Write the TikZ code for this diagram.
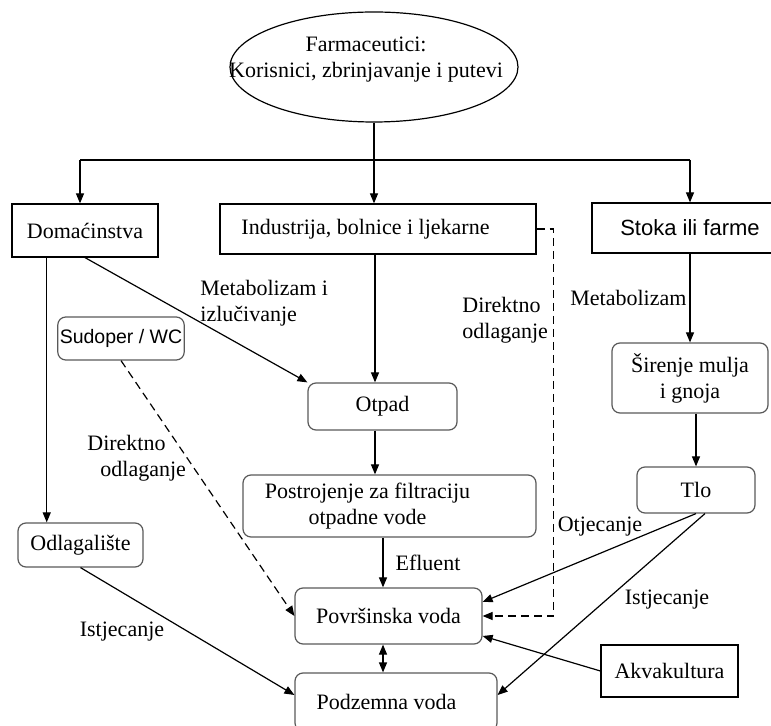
\documentclass[tikz,border=0pt]{standalone}
\usepackage{fontspec}
\setmainfont{Liberation Serif}
\newfontfamily\arialfont{Liberation Sans}
\usetikzlibrary{shapes.geometric,arrows.meta,calc}

\begin{document}
\begin{tikzpicture}[x=0.5pt,y=-0.5pt,
  every node/.style={font=\fontsize{11}{13}\selectfont},
  box/.style={draw,line width=0.6pt,align=center,inner sep=2pt},
  rbox/.style={box,rounded corners=4pt,draw=black!65},
  arr/.style={-{Triangle[length=5pt,width=4pt]},line width=0.6pt},
  arrb/.style={{Triangle[length=5pt,width=4pt]}-{Triangle[length=5pt,width=4pt]},line width=0.6pt},
  dashline/.style={dash pattern=on 4pt off 2.5pt},
  lbl/.style={align=left,inner sep=0pt}]
\useasboundingbox (0,0) rectangle (771,726);

\node[ellipse,draw,line width=0.6pt,minimum width=144pt,minimum height=55pt] (ell) at (374,67) {};
\node[align=center,inner sep=0pt] (farm) at (366,60) {Farmaceutici:\\Korisnici, zbrinjavanje i putevi};

\node[box,minimum width=73pt,minimum height=26.5pt] (dom) at (85,230.5) {Domaćinstva};
\node[box,minimum width=158pt,minimum height=25pt] (ind) at (378,229) {Industrija, bolnice i ljekarne\hspace*{12.5pt}};
\node[box,minimum width=98pt,minimum height=25pt,font=\arialfont\fontsize{11}{13}\selectfont] (stoka) at (690,228) {Stoka ili farme};
\node[rbox,minimum width=62pt,minimum height=21.5pt,font=\arialfont\fontsize{9.75}{12}\selectfont,inner sep=1pt] (sud) at (121,338.5) {Sudoper / WC};
\node[rbox,minimum width=74.5pt,minimum height=23.5pt] (otpad) at (382.5,406.5) {Otpad};
\node[rbox,minimum width=78pt,minimum height=35pt] (sirenje) at (690,378) {Širenje mulja\\i gnoja};
\node[rbox,minimum width=146.5pt,minimum height=31pt] (postr) at (389.5,506) {Postrojenje za filtraciju\hspace*{22pt}\\otpadne vode\hspace*{22pt}};
\node[rbox,minimum width=59pt,minimum height=23pt] (tlo) at (696,490) {Tlo};
\node[rbox,minimum width=62.5pt,minimum height=22pt] (odl) at (80.5,545) {Odlagalište};
\node[rbox,minimum width=93.5pt,minimum height=28pt] (pov) at (388.5,616) {Površinska voda};
\node[rbox,minimum width=101pt,minimum height=29pt] (podz) at (396,702) {Podzemna voda\hspace*{9.5pt}};
\node[box,minimum width=68.5pt,minimum height=26pt] (akva) at (669.5,671) {Akvakultura};

\coordinate (busL) at (80,160);
\coordinate (busR) at (690,160);
\coordinate (colA) at (375,300);
\coordinate (colB) at (383,560);

\draw[arr] (ell.south) -- (ell.south |- ind.north);
\draw[line width=0.6pt] (busL) -- (busR);
\draw[arr] (busL) -- (busL |- dom.north);
\draw[arr] (busR) -- (busR |- stoka.north);

\draw[arr] ($(dom.south west)!.24!(dom.south east)$) coordinate (d1) -- (d1 |- odl.north);
\draw[arr] (dom.south) -- (otpad.north west);
\node[lbl,anchor=west] (metab1) at (200,303) {Metabolizam i\\izlučivanje};
\draw[arr,dashline] (sud.south) -- (pov.west);
\node[lbl,anchor=west] (direkt1) at (87,458) {Direktno\\\hspace*{6.5pt}odlaganje};

\draw[arr] (colA |- ind.south) -- (colA |- otpad.north);
\draw[arr] (colA |- otpad.south) -- (colA |- postr.north);
\draw[arr] (colB |- postr.south) -- (colB |- pov.north) node[midway,right,inner sep=6pt] (eflu) {Efluent};
\draw[arrb] (colB |- pov.south) -- (colB |- podz.north);

\draw[arr,dashline] (ind.east) -- ++(17,0) |- (pov.east);
\node[lbl,anchor=west] (direkt2) at (462,320) {Direktno\\odlaganje};

\draw[arr] (stoka.south) -- (sirenje.north) node[midway,left,inner sep=1.5pt] (metab2) {Metabolizam};
\draw[arr] (tlo.north |- sirenje.south) -- (tlo.north);
\draw[arr] (tlo.south) -- ($(pov.east)+(0,-14)$);
\node (otjec) at (600,527) {Otjecanje};
\draw[arr] ($(tlo.south)+(9,0)$) -- ($(podz.east)+(0,-7)$);
\node (istjec2) at (667,600) {Istjecanje};
\draw[arr] (akva.west) -- ($(pov.east)+(0,20)$);
\draw[arr] (odl.south) -- ($(podz.west)+(0,-7)$);
\node (istjec1) at (122,632) {Istjecanje};
\end{tikzpicture}
\end{document}
